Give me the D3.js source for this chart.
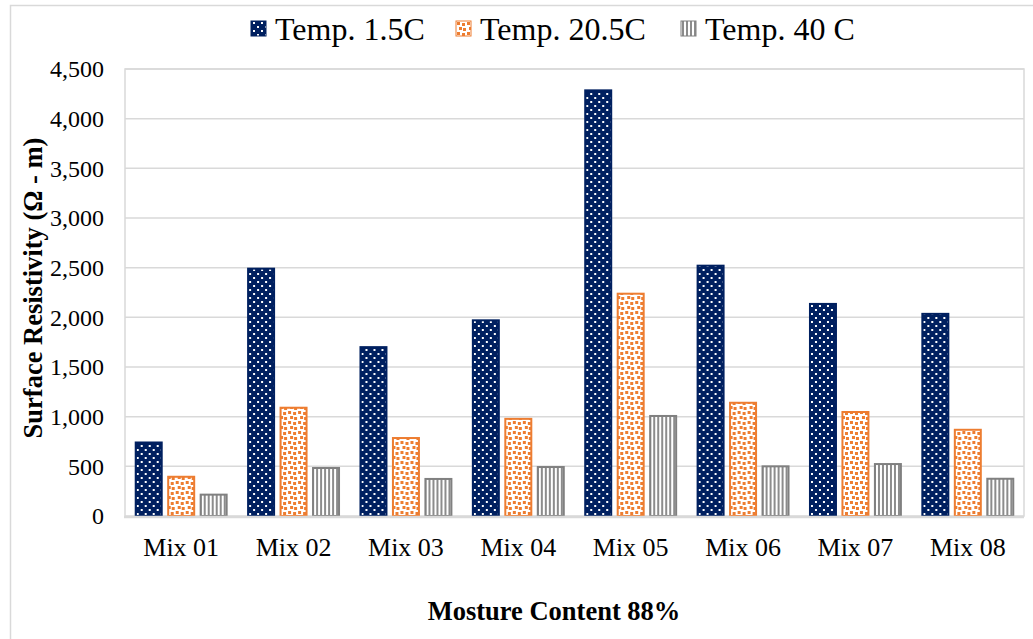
<!DOCTYPE html>
<html>
<head>
<meta charset="utf-8">
<script src="https://cdn.jsdelivr.net/npm/d3@7"></script>
<style>
  body { margin: 0; background: #fff; }
  svg { display: block; font-family: "Liberation Serif", "Times New Roman", serif; }
</style>
</head>
<body>
<div id="chart"></div>
<script>
const mixes = ["Mix 01", "Mix 02", "Mix 03", "Mix 04", "Mix 05", "Mix 06", "Mix 07", "Mix 08"];
const seriesNames = ["Temp. 1.5C", "Temp. 20.5C", "Temp. 40 C"];
const temp15 = [740, 2490, 1700, 1970, 4285, 2520, 2135, 2035];
const temp205 = [395, 1090, 785, 978, 2238, 1140, 1047, 868];
const temp40 = [215, 483, 373, 493, 1007, 500, 523, 375];
const yTicks = [0, 500, 1000, 1500, 2000, 2500, 3000, 3500, 4000, 4500];

const W = 1033, H = 639;
const plot = { left: 125, right: 1024, top: 69, bottom: 516 };
const gridColor = "#d9d9d9";

const allSeries = [temp15, temp205, temp40];
const rows = mixes.map((m, i) => ({ mix: m, values: allSeries.map((s, j) => ({ key: j, value: s[i] })) }));

const svg = d3.select("#chart").append("svg").attr("width", W).attr("height", H);

// patterns
const defs = svg.append("defs");
const pNavy = defs.append("pattern").attr("id", "p0").attr("patternUnits", "userSpaceOnUse")
  .attr("width", 8).attr("height", 8);
pNavy.append("rect").attr("width", 8).attr("height", 8).attr("fill", "#002060");
pNavy.append("rect").attr("x", 2).attr("y", 1).attr("width", 2).attr("height", 2).attr("fill", "#fff");
pNavy.append("rect").attr("x", 6).attr("y", 5).attr("width", 2).attr("height", 2).attr("fill", "#fff");

const pOrange = defs.append("pattern").attr("id", "p1").attr("patternUnits", "userSpaceOnUse")
  .attr("width", 10).attr("height", 10);
pOrange.append("rect").attr("width", 10).attr("height", 10).attr("fill", "#fff");
[[1, 1], [6, 2], [3, 6], [7, 7]].forEach(([x, y]) =>
  pOrange.append("rect").attr("x", x).attr("y", y).attr("width", 3).attr("height", 3).attr("fill", "#ED7D31"));

const pGray = defs.append("pattern").attr("id", "p2").attr("patternUnits", "userSpaceOnUse")
  .attr("width", 4).attr("height", 4);
pGray.append("rect").attr("width", 4).attr("height", 4).attr("fill", "#fff");
pGray.append("rect").attr("x", 1).attr("width", 2).attr("height", 4).attr("fill", "#8c8c8c");

const strokes = ["#002060", "#ED7D31", "#808080"];

// outer chart frame
svg.append("rect").attr("x", 10.5).attr("y", 5.5).attr("width", W + 20).attr("height", H + 20)
  .attr("fill", "none").attr("stroke", gridColor).attr("stroke-width", 1.5);

const x0 = d3.scaleBand().domain(mixes).range([plot.left, plot.right])
  .paddingInner(0.173).paddingOuter(0.0865);
const x1 = d3.scaleBand().domain([0, 1, 2]).range([0, x0.bandwidth()]).paddingInner(0.138);
const y = d3.scaleLinear().domain([0, 4500]).range([plot.bottom, plot.top]);

// grid
svg.append("g").selectAll("line").data(yTicks.slice(1)).join("line")
  .attr("x1", plot.left).attr("x2", plot.right)
  .attr("y1", d => y(d)).attr("y2", d => y(d))
  .attr("stroke", gridColor).attr("stroke-width", 1.5);

// plot frame
svg.append("rect").attr("x", plot.left).attr("y", plot.top)
  .attr("width", plot.right - plot.left).attr("height", plot.bottom - plot.top)
  .attr("fill", "none").attr("stroke", gridColor).attr("stroke-width", 1.5);

// bars
svg.append("g").selectAll("g").data(rows).join("g")
  .attr("transform", d => `translate(${x0(d.mix)},0)`)
  .selectAll("rect").data(d => d.values).join("rect")
  .attr("x", d => x1(d.key) + 1)
  .attr("width", x1.bandwidth() - 2)
  .attr("y", d => y(d.value))
  .attr("height", d => y(0) - y(d.value))
  .attr("fill", d => `url(#p${d.key})`)
  .attr("stroke", d => strokes[d.key])
  .attr("stroke-width", 2);

// baseline
svg.append("line").attr("x1", plot.left - 1).attr("x2", plot.right)
  .attr("y1", y(0) + 1).attr("y2", y(0) + 1)
  .attr("stroke", gridColor).attr("stroke-width", 2.5);

// y axis labels
const yAxis = svg.append("g").attr("transform", `translate(${plot.left},0)`)
  .call(d3.axisLeft(y).tickValues(yTicks).tickFormat(d3.format(",")).tickSize(0).tickPadding(21));
yAxis.select(".domain").remove();
yAxis.selectAll("text").attr("font-size", 24).attr("font-family", "Liberation Serif").attr("fill", "#000");

// x axis labels
const xAxis = svg.append("g").attr("transform", `translate(0,${plot.bottom})`)
  .call(d3.axisBottom(x0).tickSize(0).tickPadding(22));
xAxis.select(".domain").remove();
xAxis.selectAll("text").attr("font-size", 26).attr("font-family", "Liberation Serif").attr("fill", "#000");

// axis titles
svg.append("text").attr("x", 554).attr("y", 620).attr("text-anchor", "middle")
  .attr("font-size", 26.5).attr("font-weight", "bold").text("Mosture Content 88%");
svg.append("text").attr("transform", "translate(42,288) rotate(-90)").attr("text-anchor", "middle")
  .attr("font-size", 26.5).attr("font-weight", "bold").text("Surface Resistivity (Ω - m)");

// legend
const legendX = [251, 456, 681];
const legend = svg.append("g").selectAll("g").data(seriesNames).join("g")
  .attr("transform", (d, i) => `translate(${legendX[i]},21)`);
legend.append("rect").attr("width", 15).attr("height", 15)
  .attr("fill", (d, i) => `url(#p${i})`).attr("stroke", (d, i) => strokes[i]).attr("stroke-width", 1);
legend.append("text").attr("x", 24).attr("y", 18.5).attr("font-size", 32).text(d => d);
</script>
</body>
</html>
